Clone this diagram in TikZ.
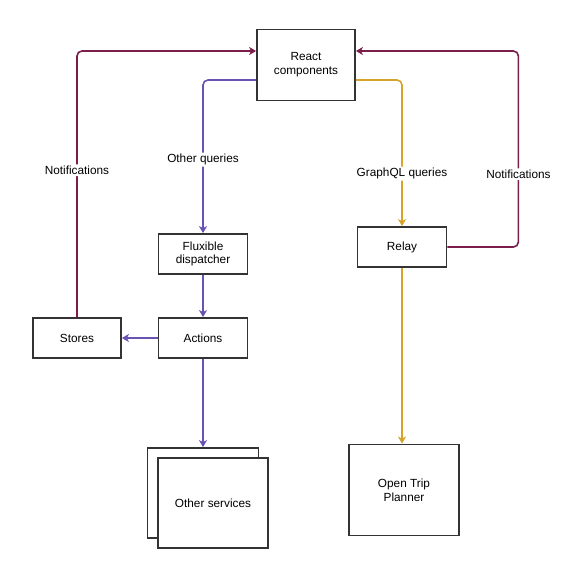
\documentclass[tikz,border=0pt]{standalone}
\usepackage{fontspec}
\setmainfont{Liberation Sans}
\usetikzlibrary{arrows.meta}
\definecolor{qpurple}{HTML}{6A52B3}
\definecolor{qgold}{HTML}{D4A52A}
\definecolor{nmaroon}{HTML}{7C1E4C}
\definecolor{boxline}{HTML}{333333}
\begin{document}
\begin{tikzpicture}[
  x=1pt, y=-1pt,
  box/.style={draw=boxline, line width=1.8pt, rectangle, fill=white,
              align=center, font=\fontsize{11.8}{13.7}\selectfont, inner sep=2pt},
  lbl/.style={fill=white, inner sep=1.5pt, font=\fontsize{11.8}{13.7}\selectfont},
  arr/.style={line width=1.6pt, rounded corners=5pt,
              -{Stealth[length=7pt, width=8pt, inset=2pt]}},
  purp/.style={arr, draw=qpurple},
  gold/.style={arr, draw=qgold},
  noti/.style={arr, draw=nmaroon}
]
\useasboundingbox (0,0) rectangle (572,568);
\node[box, minimum width=98pt, minimum height=71pt]  (react)   at (306, 65)  {React\\components};
\node[box, minimum width=89pt, minimum height=40pt]  (flux)    at (203, 254) {Fluxible\\dispatcher};
\node[box, minimum width=89pt, minimum height=40pt]  (actions) at (203, 338) {Actions};
\node[box, minimum width=88pt, minimum height=40pt]  (stores)  at (77, 338)  {Stores};
\node[box, minimum width=89pt, minimum height=40pt]  (relay)   at (402, 247) {Relay};
\node[box, minimum width=110pt, minimum height=91pt] (otp)     at (404, 490) {Open Trip\\Planner};
\node[box, minimum width=111pt, minimum height=90pt] (svcback) at (203, 493) {};
\node[box, minimum width=110pt, minimum height=90pt] (svc)     at (213, 503) {Other services};
% queries
\draw[purp] ([yshift=-15pt]react.west) -| node[lbl, pos=0.76] {Other queries} (flux.north);
\draw[purp] (flux) -- (actions);
\draw[purp] (actions) -- (stores);
\draw[purp] (actions.south) -- (svcback.north);
\draw[gold] ([yshift=-15pt]react.east) -| node[lbl, pos=0.82] {GraphQL queries} (relay.north);
\draw[gold] (relay.south) -- (relay.south |- otp.north);
% notifications
\draw[noti] (stores.north) |- node[lbl, pos=0.276] {Notifications} ([yshift=14pt]react.west);
\draw[noti] (relay.east) -- ++(71,0) |- node[lbl, pos=0.186] {Notifications} ([yshift=14pt]react.east);
\end{tikzpicture}
\end{document}
